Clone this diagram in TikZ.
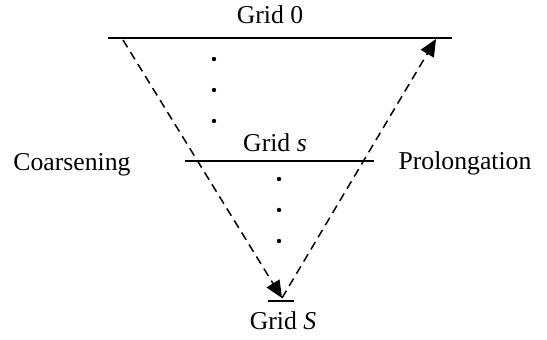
\documentclass[tikz,border=0pt]{standalone}
\usepackage{fontspec}
\setmainfont{Liberation Serif}
\usetikzlibrary{arrows.meta}

\begin{document}
\begin{tikzpicture}[x=0.467pt, y=-0.467pt, font=\fontsize{12}{14}\selectfont,
    grid/.style={line width=0.7pt},
    path/.style={line width=0.7pt, dash pattern=on 4pt off 2.6pt, -{Triangle[length=8pt, width=7pt]}}]
    \useasboundingbox (0,0) rectangle (547,339);
    % Gitterlinien
    \coordinate (G0a) at (108, 38);
    \coordinate (G0b) at (452, 38);
    \coordinate (Gsa) at (185, 161);
    \coordinate (Gsb) at (374, 161);
    \coordinate (GSa) at (268, 301);
    \coordinate (GSb) at (294, 301);
    \draw[grid] (G0a) -- (G0b);
    \draw[grid] (Gsa) -- (Gsb);
    \draw[grid] (GSa) -- (GSb);
    \node (g0) at (270, 15) {Grid 0};
    \node (gs) at (275, 143) {Grid \textit{s}};
    \node (gS) at (283, 321) {Grid \textit{S}};
    
    % Vergröberung und Verlängerung
    \coordinate (C0) at (123, 40);
    \coordinate (CS) at (282, 298);
    \coordinate (P0) at (436, 39);
    \draw[path] (C0) -- (CS);
    \draw[path] (CS) -- (P0);
    \node (coarse) at (72, 165) {Coarsening};
    \node (prolong) at (465, 163) {Prolongation};
    
    \foreach \y in {59, 90, 121} {
        \fill (214, \y) circle (2.2);
    }
    \foreach \y in {179, 210, 241} {
        \fill (279, \y) circle (2.2);
    }
\end{tikzpicture}
\end{document}
